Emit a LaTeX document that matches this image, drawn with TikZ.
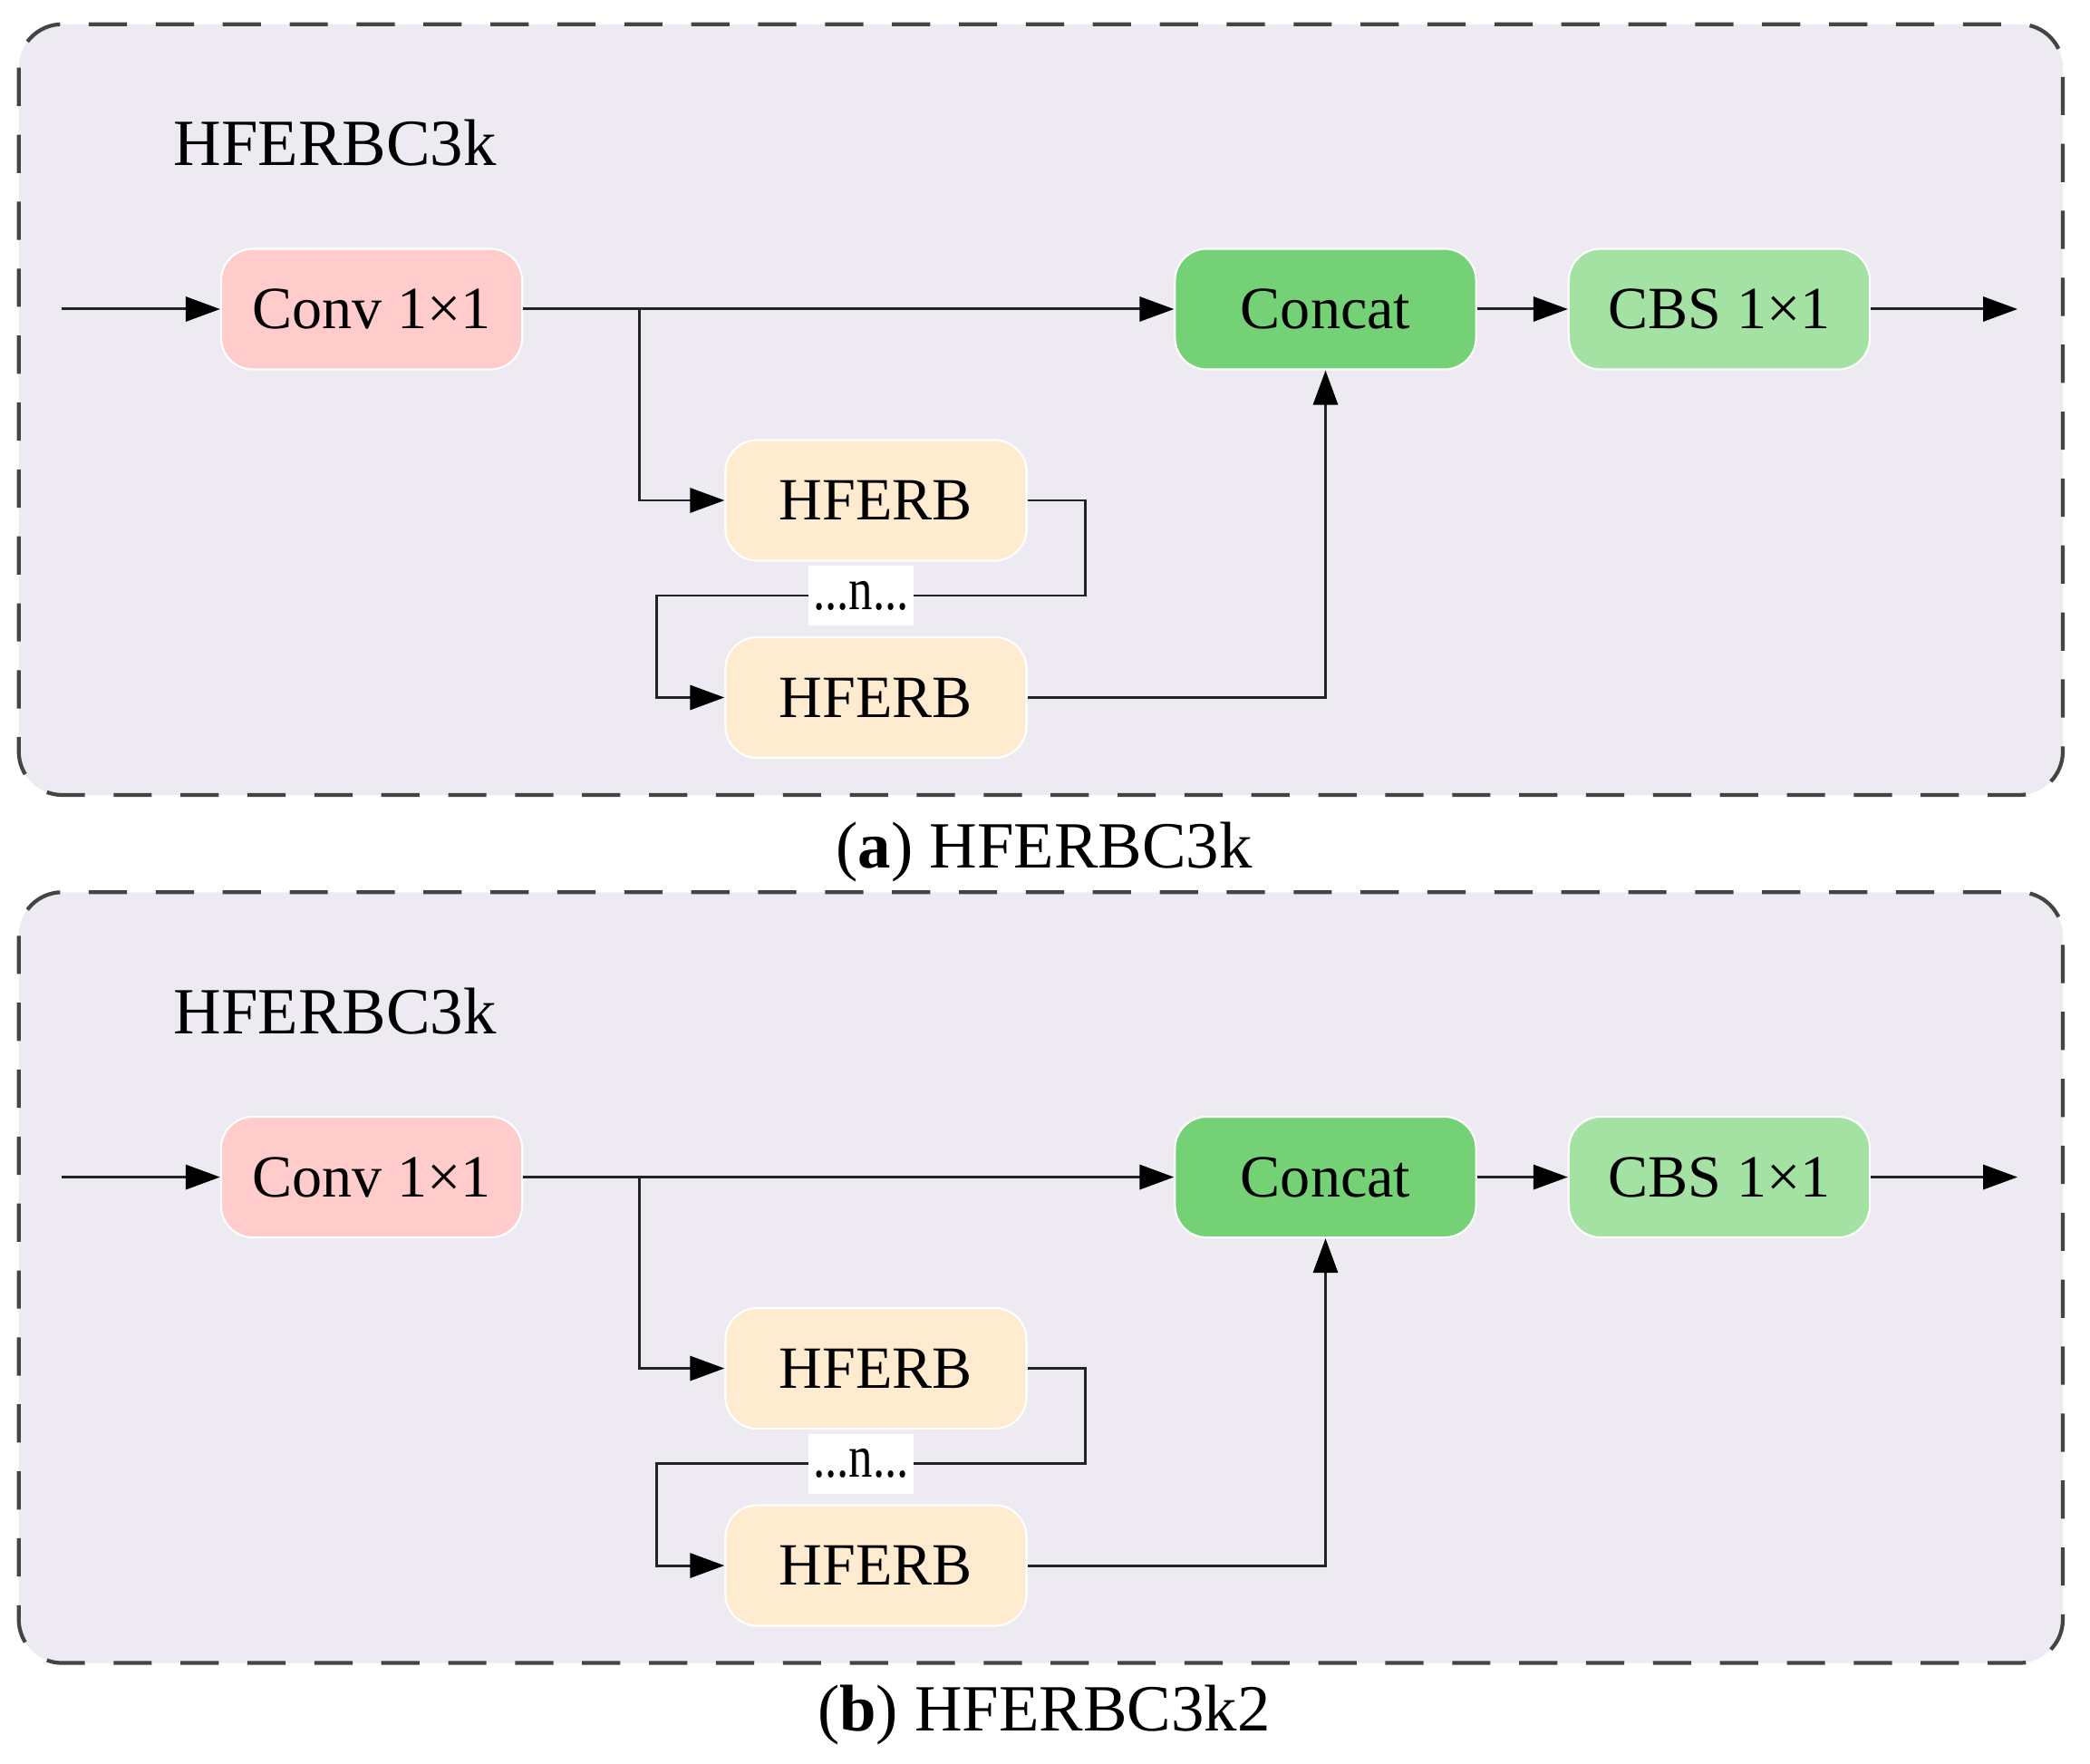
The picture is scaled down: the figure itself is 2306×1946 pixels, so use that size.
\documentclass[tikz,border=0pt]{standalone}
\usepackage{fontspec}
\setmainfont{Liberation Serif}
\usepackage{graphicx}
\usetikzlibrary{arrows.meta}
\definecolor{panelbg}{RGB}{237,234,242}
\definecolor{convc}{RGB}{255,204,203}
\definecolor{concatc}{RGB}{116,209,117}
\definecolor{cbsc}{RGB}{163,226,163}
\definecolor{hferbc}{RGB}{255,235,207}
\definecolor{framec}{RGB}{68,68,68}
\definecolor{linec}{RGB}{35,35,35}

\tikzset{
  blk/.style={rounded corners=0.35cm, draw=white, line width=0.6pt,
    minimum width=3.32cm, minimum height=1.33cm, inner sep=0pt,
    font=\fontsize{18.8}{22}\selectfont},
  conn/.style={draw=linec, line width=0.85pt,
    -{Triangle[length=10.8pt,width=7.7pt,color=black]}},
  panelframe/.style={draw=framec, line width=1.2pt, dash pattern=on 12pt off 9pt,
    rounded corners=0.48cm, fill=panelbg},
  ttltxt/.style={font=\fontsize{20.7}{24}\selectfont, anchor=base west, inner sep=0pt},
  captxt/.style={font=\fontsize{20.7}{24}\selectfont, anchor=base, inner sep=0pt},
  nlbl/.style={fill=white, minimum width=1.15cm, minimum height=0.66cm, inner sep=0pt,
    font=\fontsize{18.8}{22}\selectfont},
}

\newcommand\drawpanel[2]{%
\begin{scope}[yshift=#2]
  \draw[panelframe] (20.7,26.7) rectangle (2276,877);
  \node[ttltxt] (title#1) at (191,183) {HFERBC3k};
  \node[blk, fill=convc] (conv#1) at (410,341) {Conv 1×1};
  \node[blk, fill=concatc] (concat#1) at (1462.5,341) {Concat};
  \node[blk, fill=cbsc] (cbs#1) at (1897,341) {CBS 1×1};
  \node[blk, fill=hferbc] (ha#1) at (966.5,552) {HFERB};
  \node[blk, fill=hferbc] (hb#1) at (966.5,769.5) {HFERB};
  \coordinate (in#1) at (68,341);
  \coordinate (out#1) at (2226,341);
  \coordinate (br#1) at (705,341);
  \draw[conn] (in#1) -- (conv#1.west);
  \draw[conn] (conv#1.east) -- (concat#1.west);
  \draw[conn] (concat#1.east) -- (cbs#1.west);
  \draw[conn] (cbs#1.east) -- (out#1);
  \draw[conn] (br#1) |- (ha#1.west);
  \draw[conn] (ha#1.east) -| (1197,657) -| (724,769.5) -- (hb#1.west);
  \draw[conn] (hb#1.east) -| (concat#1.south);
  \node[nlbl] (n#1) at (950,657) {\scalebox{0.8}[1]{...n...}};
\end{scope}}

\begin{document}
\begin{tikzpicture}[x=0.01cm, y=-0.01cm]
  \useasboundingbox (0,0) rectangle (2306,1946);
  \fill[white] (0,0) rectangle (2306,1946);
  \drawpanel{a}{0cm}
  \node[captxt] (capa) at (1152,957) {(\textbf{a}) HFERBC3k};
  \drawpanel{b}{-9.57cm}
  \node[captxt] (capb) at (1152,1909) {(\textbf{b}) HFERBC3k2};
\end{tikzpicture}
\end{document}
